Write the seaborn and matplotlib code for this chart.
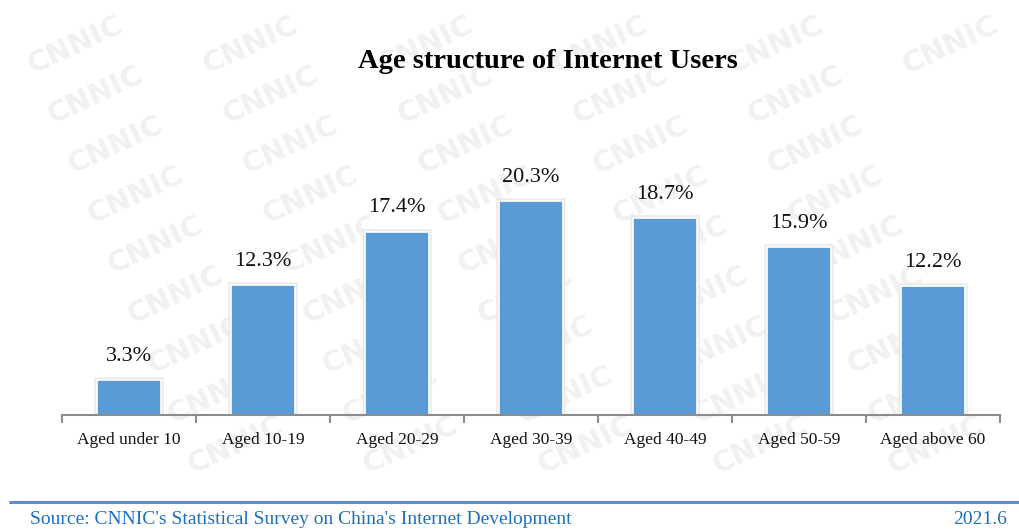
import matplotlib
matplotlib.use("Agg")
import matplotlib.pyplot as plt
import matplotlib.patheffects as pe
import seaborn as sns
import numpy as np

categories = ["Aged under 10", "Aged 10-19", "Aged 20-29", "Aged 30-39",
              "Aged 40-49", "Aged 50-59", "Aged above 60"]
shares = [3.3, 12.3, 17.4, 20.3, 18.7, 15.9, 12.2]
title = "Age structure of Internet Users"
source = "Source: CNNIC's Statistical Survey on China's Internet Development"
date_label = "2021.6"

sns.set_theme(style="white")
plt.rcParams["font.family"] = ["Liberation Serif", "DejaVu Serif"]

W, H = 1019, 529
fig = plt.figure(figsize=(W / 100, H / 100), dpi=100)
fig.patch.set_facecolor("white")

# background layer with the faint watermark lattice
bg = fig.add_axes([0, 0, 1, 1], zorder=0)
bg.set_xlim(0, W)
bg.set_ylim(H, 0)
bg.axis("off")
for row in range(0, 10):
    y0 = 45 + row * 50
    shift = (row * 20) % 175
    for col in range(0, 7):
        x0 = 75 + col * 175 + shift
        if x0 > W - 65 or y0 > H - 40:
            continue
        bg.text(x0, y0, "CNNIC", fontsize=21, fontweight="bold",
                family="DejaVu Sans", color="#f1f1f1", rotation=25,
                ha="center", va="center")

ax_left, ax_right = 62 / W, 1000 / W
ax_bottom, ax_top = (H - 415) / H, (H - 150) / H
ax = fig.add_axes([ax_left, ax_bottom, ax_right - ax_left, ax_top - ax_bottom],
                  zorder=1)
ax.patch.set_alpha(0)

sns.barplot(x=categories, y=shares, color="#5B9BD5", width=0.48,
            edgecolor="white", linewidth=1.2, saturation=1, ax=ax, zorder=3)
for bar in ax.patches:
    bar.set_path_effects([pe.Stroke(linewidth=4, foreground="#ebebeb"),
                          pe.Normal()])

ax.set_xlim(-0.5, len(categories) - 0.5)
ax.set_ylim(0, 25.14)

for i, v in enumerate(shares):
    ax.annotate(f"{v}%", (i, v), xytext=(0, 17), textcoords="offset points",
                ha="center", va="center", fontsize=16, color="#111111")

for s in ["top", "right", "left"]:
    ax.spines[s].set_visible(False)
ax.spines["bottom"].set_color("#8c8c8c")
ax.spines["bottom"].set_linewidth(1.5)
ax.spines["bottom"].set_zorder(4)
ax.set_yticks([])

# boundary tick marks between categories, labels centred under bars
ax.set_xticks(np.arange(-0.5, len(categories)), labels=[""] * (len(categories) + 1))
ax.tick_params(axis="x", which="major", direction="out", length=6, width=1.5,
               color="#8c8c8c", bottom=True)
ax.set_xticks(np.arange(len(categories)), labels=categories, minor=True)
ax.tick_params(axis="x", which="minor", length=0, pad=12, labelsize=12.5,
               labelcolor="#111111")
ax.set_xlabel("")
ax.set_ylabel("")

fig.text(548 / W, 1 - 61 / H, title, ha="center", va="center",
         fontsize=20.5, fontweight="bold", color="#000000", zorder=2)

fig.add_artist(plt.Line2D([10 / W, 1.0], [1 - 502 / H, 1 - 502 / H],
                          color="#5B8FD6", linewidth=2.2, zorder=2))
fig.text(30 / W, 1 - 519 / H, source, ha="left", va="center",
         fontsize=14, color="#1F6FBF", zorder=2)
fig.text(1007 / W, 1 - 519 / H, date_label, ha="right", va="center",
         fontsize=14, color="#1F6FBF", zorder=2)

fig.savefig("out.png", dpi=100, facecolor="white")
